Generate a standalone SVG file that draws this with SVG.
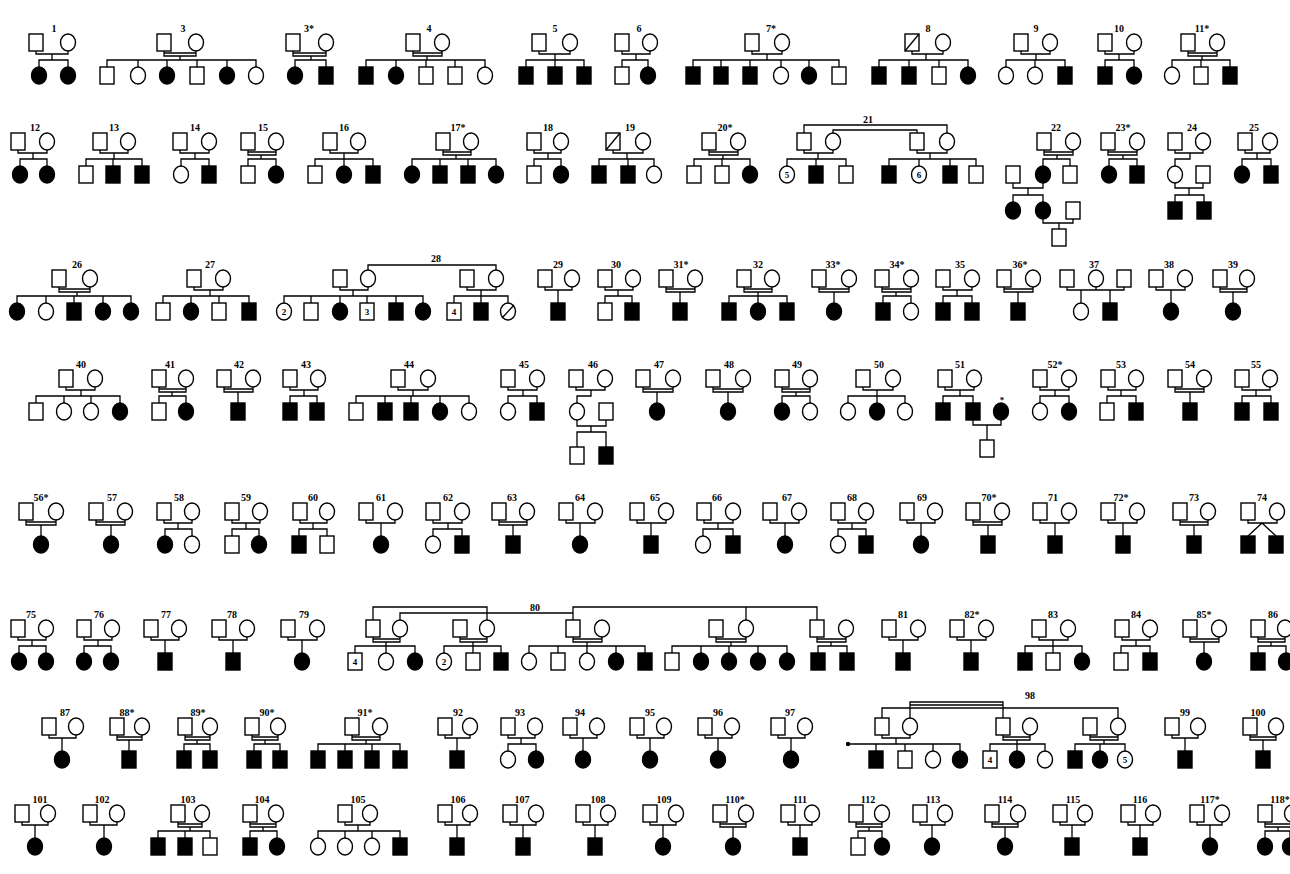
<svg xmlns="http://www.w3.org/2000/svg" xmlns:xlink="http://www.w3.org/1999/xlink" width="1290" height="874" viewBox="0 0 1290 874">
<style>
.ln,.x{fill:none;stroke:#000;stroke-width:1.3}
use{fill:#fff;stroke:#000;stroke-width:1.4}
use.f{fill:#000}
text{font-family:"Liberation Serif",serif;font-size:10px;font-weight:bold;text-anchor:middle;fill:#000}
text.n{font-size:9px}
</style>
<defs>
<rect id="P" x="-7" y="0" width="14" height="17"/>
<ellipse id="Q" cx="0" cy="8.5" rx="7.5" ry="8.5"/>
<rect id="S" x="-7" y="33" width="14" height="17"/>
<ellipse id="C" cx="0" cy="41.5" rx="7.5" ry="8.5"/>
</defs>
<rect width="1290" height="874" fill="#fff"/>

<g id="row1" transform="translate(0,34)">
<g id="links-row1" class="ln">
<path d="M36,17V20H68V17M52,20V26M39,33V26H68V33"/>
<path d="M164,17V22H196V17M164,19H196M180,22V26M107,33V26H256V33M138,26V33M167,26V33M197,26V33M227,26V33"/>
<path d="M293,17V22H326V17M293,19H326M311,22V26M295,33V26H326V33"/>
<path d="M413,17V22H442V17M413,19H442M427,22V26M366,33V26H485V33M396,26V33M426,26V33M455,26V33"/>
<path d="M539,17V20H570V17M555,20V26M526,33V26H584V33M555,26V33"/>
<path d="M622,17V20H650V17M636,20V26M622,33V26H648V33"/>
<path d="M752,17V20H782V17M767,20V26M693,33V26H839V33M721,26V33M750,26V33M781,26V33M809,26V33"/>
<path d="M912,17V20H943V17M926,20V26M879,33V26H968V33M909,26V33M939,26V33"/>
<path d="M1021,17V20H1050V17M1036,20V26M1006,33V26H1065V33M1035,26V33"/>
<path d="M1105,17V20H1134V17M1119,20V26M1105,33V26H1134V33"/>
<path d="M1188,17V22H1217V17M1188,19H1217M1202,22V26M1172,33V26H1230V33M1201,26V33"/>
</g>
<g id="f1"><text x="54" y="-2">1</text><use href="#P" x="36"/><use href="#Q" x="68"/><use href="#C" x="39" class="f"/><use href="#C" x="68" class="f"/></g>
<g id="f3"><text x="183" y="-2">3</text><use href="#P" x="164"/><use href="#Q" x="196"/><use href="#S" x="107"/><use href="#C" x="138"/><use href="#C" x="167" class="f"/><use href="#S" x="197"/><use href="#C" x="227" class="f"/><use href="#C" x="256"/></g>
<g id="f3s"><text x="309" y="-2">3*</text><use href="#P" x="293"/><use href="#Q" x="326"/><use href="#C" x="295" class="f"/><use href="#S" x="326" class="f"/></g>
<g id="f4"><text x="429" y="-2">4</text><use href="#P" x="413"/><use href="#Q" x="442"/><use href="#S" x="366" class="f"/><use href="#C" x="396" class="f"/><use href="#S" x="426"/><use href="#S" x="455"/><use href="#C" x="485"/></g>
<g id="f5"><text x="555" y="-2">5</text><use href="#P" x="539"/><use href="#Q" x="570"/><use href="#S" x="526" class="f"/><use href="#S" x="555" class="f"/><use href="#S" x="584" class="f"/></g>
<g id="f6"><text x="639" y="-2">6</text><use href="#P" x="622"/><use href="#Q" x="650"/><use href="#S" x="622"/><use href="#C" x="648" class="f"/></g>
<g id="f7"><text x="771" y="-2">7*</text><use href="#P" x="752"/><use href="#Q" x="782"/><use href="#S" x="693" class="f"/><use href="#S" x="721" class="f"/><use href="#S" x="750" class="f"/><use href="#C" x="781"/><use href="#C" x="809" class="f"/><use href="#S" x="839"/></g>
<g id="f8"><text x="928" y="-2">8</text><use href="#P" x="912"/><path class="x" d="M905,17L919,0"/><use href="#Q" x="943"/><use href="#S" x="879" class="f"/><use href="#S" x="909" class="f"/><use href="#S" x="939"/><use href="#C" x="968" class="f"/></g>
<g id="f9"><text x="1036" y="-2">9</text><use href="#P" x="1021"/><use href="#Q" x="1050"/><use href="#C" x="1006"/><use href="#C" x="1035"/><use href="#S" x="1065" class="f"/></g>
<g id="f10"><text x="1119" y="-2">10</text><use href="#P" x="1105"/><use href="#Q" x="1134"/><use href="#S" x="1105" class="f"/><use href="#C" x="1134" class="f"/></g>
<g id="f11"><text x="1202" y="-2">11*</text><use href="#P" x="1188"/><use href="#Q" x="1217"/><use href="#C" x="1172"/><use href="#S" x="1201"/><use href="#S" x="1230" class="f"/></g>
</g>

<g id="row2" transform="translate(0,133)">
<g id="links-row2" class="ln">
<path d="M18,17V20H47V17M33,20V26M20,33V26H47V33"/>
<path d="M100,17V20H128V17M114,20V26M86,33V26H142V33M113,26V33"/>
<path d="M180,17V20H209V17M195,20V26M181,33V26H209V33"/>
<path d="M248,17V22H276V17M248,19H276M261,22V26M248,33V26H276V33"/>
<path d="M330,17V20H358V17M344,20V26M315,33V26H373V33M344,26V33"/>
<path d="M443,17V22H471V17M443,19H471M456,22V26M412,33V26H496V33M440,26V33M468,26V33"/>
<path d="M534,17V20H561V17M548,20V26M534,33V26H561V33"/>
<path d="M613,17V20H643V17M627,20V26M599,33V26H654V33M628,26V33"/>
<path d="M709,17V22H738V17M709,19H738M723,22V26M694,33V26H750V33M722,26V33"/>
<path d="M804,0V-8H947V0M833,0V-3H917V0M804,17V20H833V17M818,20V26M787,33V26H846V33M816,26V33M917,17V20H947V17M930,20V26M889,33V26H976V33M919,26V33M950,26V33"/>
<path d="M1044,17V22H1073V17M1044,19H1073M1057,22V26M1043,33V26H1070V33M1013,50V55H1043V50M1028,55V62M1013,69V62H1043V69M1043,86V90H1073V86M1059,90V96"/>
<path d="M1108,17V22H1137V17M1108,19H1137M1123,22V26M1109,33V26H1137V33"/>
<path d="M1175,17V20H1203V17M1190,20V26H1175V33M1175,50V55H1203V50M1189,55V62M1175,69V62H1204V69"/>
<path d="M1245,17V20H1270V17M1257,20V26M1242,33V26H1271V33"/>
</g>
<g id="f12"><text x="35" y="-2">12</text><use href="#P" x="18"/><use href="#Q" x="47"/><use href="#C" x="20" class="f"/><use href="#C" x="47" class="f"/></g>
<g id="f13"><text x="114" y="-2">13</text><use href="#P" x="100"/><use href="#Q" x="128"/><use href="#S" x="86"/><use href="#S" x="113" class="f"/><use href="#S" x="142" class="f"/></g>
<g id="f14"><text x="195" y="-2">14</text><use href="#P" x="180"/><use href="#Q" x="209"/><use href="#C" x="181"/><use href="#S" x="209" class="f"/></g>
<g id="f15"><text x="263" y="-2">15</text><use href="#P" x="248"/><use href="#Q" x="276"/><use href="#S" x="248"/><use href="#C" x="276" class="f"/></g>
<g id="f16"><text x="344" y="-2">16</text><use href="#P" x="330"/><use href="#Q" x="358"/><use href="#S" x="315"/><use href="#C" x="344" class="f"/><use href="#S" x="373" class="f"/></g>
<g id="f17"><text x="458" y="-2">17*</text><use href="#P" x="443"/><use href="#Q" x="471"/><use href="#C" x="412" class="f"/><use href="#S" x="440" class="f"/><use href="#S" x="468" class="f"/><use href="#C" x="496" class="f"/></g>
<g id="f18"><text x="548" y="-2">18</text><use href="#P" x="534"/><use href="#Q" x="561"/><use href="#S" x="534"/><use href="#C" x="561" class="f"/></g>
<g id="f19"><text x="630" y="-2">19</text><use href="#P" x="613"/><path class="x" d="M606,17L620,0"/><use href="#Q" x="643"/><use href="#S" x="599" class="f"/><use href="#S" x="628" class="f"/><use href="#C" x="654"/></g>
<g id="f20"><text x="725" y="-2">20*</text><use href="#P" x="709"/><use href="#Q" x="738"/><use href="#S" x="694"/><use href="#S" x="722"/><use href="#C" x="750" class="f"/></g>
<g id="f21"><text x="868" y="-10">21</text><use href="#P" x="804"/><use href="#Q" x="833"/><use href="#P" x="917"/><use href="#Q" x="947"/><use href="#C" x="787"/><text class="n" x="787" y="45">5</text><use href="#S" x="816" class="f"/><use href="#S" x="846"/><use href="#S" x="889" class="f"/><use href="#C" x="919"/><text class="n" x="919" y="45">6</text><use href="#S" x="950" class="f"/><use href="#S" x="976"/></g>
<g id="f22"><text x="1056" y="-2">22</text><use href="#P" x="1044"/><use href="#Q" x="1073"/><use href="#S" x="1013"/><use href="#C" x="1043" class="f"/><use href="#S" x="1070"/><use href="#C" x="1013" y="36" class="f"/><use href="#C" x="1043" y="36" class="f"/><use href="#S" x="1073" y="36"/><use href="#S" x="1059" y="63"/></g>
<g id="f23"><text x="1123" y="-2">23*</text><use href="#P" x="1108"/><use href="#Q" x="1137"/><use href="#C" x="1109" class="f"/><use href="#S" x="1137" class="f"/></g>
<g id="f24"><text x="1192" y="-2">24</text><use href="#P" x="1175"/><use href="#Q" x="1203"/><use href="#C" x="1175"/><use href="#S" x="1203"/><use href="#S" x="1175" y="36" class="f"/><use href="#S" x="1204" y="36" class="f"/></g>
<g id="f25"><text x="1254" y="-2">25</text><use href="#P" x="1245"/><use href="#Q" x="1270"/><use href="#C" x="1242" class="f"/><use href="#S" x="1271" class="f"/></g>
</g>

<g id="row3" transform="translate(0,270)">
<g id="links-row3" class="ln">
<path d="M59,17V22H90V17M59,19H90M77,22V26M17,33V26H131V33M46,26V33M74,26V33M103,26V33"/>
<path d="M194,17V20H223V17M210,20V26M163,33V26H249V33M191,26V33M219,26V33"/>
<path d="M368,0V-5H496V0M340,17V20H368V17M353,20V26M284,33V26H423V33M311,26V33M340,26V33M367,26V33M396,26V33M467,17V20H496V17M481,20V26M454,33V26H508V33M481,26V33"/>
<path d="M545,17V20H572V17M558,20V33"/>
<path d="M605,17V20H633V17M618,20V26M605,33V26H632V33"/>
<path d="M666,17V22H695V17M666,19H695M680,22V33"/>
<path d="M744,17V22H772V17M744,19H772M758,22V26M729,33V26H787V33M758,26V33"/>
<path d="M819,17V22H849V17M819,19H849M834,22V33"/>
<path d="M882,17V22H911V17M882,19H911M896,22V26M883,33V26H911V33"/>
<path d="M943,17V20H972V17M957,20V26M943,33V26H972V33"/>
<path d="M1004,17V22H1033V17M1004,19H1033M1018,22V33"/>
<path d="M1067,17V20H1124V17M1096,17V20M1081,20V33M1110,20V33"/>
<path d="M1156,17V20H1185V17M1171,20V33"/>
<path d="M1220,17V22H1247V17M1220,19H1247M1233,22V33"/>
</g>
<g id="f26"><text x="77" y="-2">26</text><use href="#P" x="59"/><use href="#Q" x="90"/><use href="#C" x="17" class="f"/><use href="#C" x="46"/><use href="#S" x="74" class="f"/><use href="#C" x="103" class="f"/><use href="#C" x="131" class="f"/></g>
<g id="f27"><text x="210" y="-2">27</text><use href="#P" x="194"/><use href="#Q" x="223"/><use href="#S" x="163"/><use href="#C" x="191" class="f"/><use href="#S" x="219"/><use href="#S" x="249" class="f"/></g>
<g id="f28"><text x="436" y="-8">28</text><use href="#P" x="340"/><use href="#Q" x="368"/><use href="#P" x="467"/><use href="#Q" x="496"/><use href="#C" x="284"/><text class="n" x="284" y="45">2</text><use href="#S" x="311"/><use href="#C" x="340" class="f"/><use href="#S" x="367"/><text class="n" x="367" y="45">3</text><use href="#S" x="396" class="f"/><use href="#C" x="423" class="f"/><use href="#S" x="454"/><text class="n" x="454" y="45">4</text><use href="#S" x="481" class="f"/><use href="#C" x="508"/><path class="x" d="M502,48L514,35"/></g>
<g id="f29"><text x="558" y="-2">29</text><use href="#P" x="545"/><use href="#Q" x="572"/><use href="#S" x="558" class="f"/></g>
<g id="f30"><text x="616" y="-2">30</text><use href="#P" x="605"/><use href="#Q" x="633"/><use href="#S" x="605"/><use href="#S" x="632" class="f"/></g>
<g id="f31"><text x="681" y="-2">31*</text><use href="#P" x="666"/><use href="#Q" x="695"/><use href="#S" x="680" class="f"/></g>
<g id="f32"><text x="758" y="-2">32</text><use href="#P" x="744"/><use href="#Q" x="772"/><use href="#S" x="729" class="f"/><use href="#C" x="758" class="f"/><use href="#S" x="787" class="f"/></g>
<g id="f33"><text x="833" y="-2">33*</text><use href="#P" x="819"/><use href="#Q" x="849"/><use href="#C" x="834" class="f"/></g>
<g id="f34"><text x="897" y="-2">34*</text><use href="#P" x="882"/><use href="#Q" x="911"/><use href="#S" x="883" class="f"/><use href="#C" x="911"/></g>
<g id="f35"><text x="960" y="-2">35</text><use href="#P" x="943"/><use href="#Q" x="972"/><use href="#S" x="943" class="f"/><use href="#S" x="972" class="f"/></g>
<g id="f36"><text x="1020" y="-2">36*</text><use href="#P" x="1004"/><use href="#Q" x="1033"/><use href="#S" x="1018" class="f"/></g>
<g id="f37"><text x="1094" y="-2">37</text><use href="#P" x="1067"/><use href="#Q" x="1096"/><use href="#P" x="1124"/><use href="#C" x="1081"/><use href="#S" x="1110" class="f"/></g>
<g id="f38"><text x="1169" y="-2">38</text><use href="#P" x="1156"/><use href="#Q" x="1185"/><use href="#C" x="1171" class="f"/></g>
<g id="f39"><text x="1233" y="-2">39</text><use href="#P" x="1220"/><use href="#Q" x="1247"/><use href="#C" x="1233" class="f"/></g>
</g>

<g id="row4" transform="translate(0,370)">
<g id="links-row4" class="ln">
<path d="M66,17V20H95V17M81,20V26M36,33V26H120V33M64,26V33M91,26V33"/>
<path d="M159,17V22H186V17M159,19H186M172,22V26M159,33V26H186V33"/>
<path d="M224,17V22H253V17M224,19H253M238,22V33"/>
<path d="M290,17V20H318V17M304,20V26M290,33V26H317V33"/>
<path d="M398,17V20H428V17M413,20V26M356,33V26H469V33M385,26V33M411,26V33M440,26V33"/>
<path d="M508,17V20H537V17M523,20V26M508,33V26H537V33"/>
<path d="M576,17V20H605V17M591,20V26H577V33M577,50V56H606V50M591,56V62M577,77V62H606V77"/>
<path d="M643,17V22H673V17M643,19H673M657,22V33"/>
<path d="M713,17V22H743V17M713,19H743M728,22V33"/>
<path d="M782,17V22H810V17M782,19H810M796,22V26M782,33V26H810V33"/>
<path d="M863,17V20H893V17M877,20V26M848,33V26H905V33M877,26V33"/>
<path d="M945,17V20H974V17M960,20V26M943,33V26H973V33M973,50V55H1001V50M987,55V70"/>
<path d="M1040,17V20H1069V17M1055,20V26M1040,33V26H1069V33"/>
<path d="M1108,17V20H1136V17M1121,20V26M1107,33V26H1136V33"/>
<path d="M1175,17V22H1204V17M1175,19H1204M1190,22V33"/>
<path d="M1242,17V20H1270V17M1256,20V26M1242,33V26H1271V33"/>
</g>
<g id="f40"><text x="81" y="-2">40</text><use href="#P" x="66"/><use href="#Q" x="95"/><use href="#S" x="36"/><use href="#C" x="64"/><use href="#C" x="91"/><use href="#C" x="120" class="f"/></g>
<g id="f41"><text x="170" y="-2">41</text><use href="#P" x="159"/><use href="#Q" x="186"/><use href="#S" x="159"/><use href="#C" x="186" class="f"/></g>
<g id="f42"><text x="239" y="-2">42</text><use href="#P" x="224"/><use href="#Q" x="253"/><use href="#S" x="238" class="f"/></g>
<g id="f43"><text x="306" y="-2">43</text><use href="#P" x="290"/><use href="#Q" x="318"/><use href="#S" x="290" class="f"/><use href="#S" x="317" class="f"/></g>
<g id="f44"><text x="409" y="-2">44</text><use href="#P" x="398"/><use href="#Q" x="428"/><use href="#S" x="356"/><use href="#S" x="385" class="f"/><use href="#S" x="411" class="f"/><use href="#C" x="440" class="f"/><use href="#C" x="469"/></g>
<g id="f45"><text x="524" y="-2">45</text><use href="#P" x="508"/><use href="#Q" x="537"/><use href="#C" x="508"/><use href="#S" x="537" class="f"/></g>
<g id="f46"><text x="593" y="-2">46</text><use href="#P" x="576"/><use href="#Q" x="605"/><use href="#C" x="577"/><use href="#S" x="606"/><use href="#S" x="577" y="44"/><use href="#S" x="606" y="44" class="f"/></g>
<g id="f47"><text x="659" y="-2">47</text><use href="#P" x="643"/><use href="#Q" x="673"/><use href="#C" x="657" class="f"/></g>
<g id="f48"><text x="729" y="-2">48</text><use href="#P" x="713"/><use href="#Q" x="743"/><use href="#C" x="728" class="f"/></g>
<g id="f49"><text x="797" y="-2">49</text><use href="#P" x="782"/><use href="#Q" x="810"/><use href="#C" x="782" class="f"/><use href="#C" x="810"/></g>
<g id="f50"><text x="879" y="-2">50</text><use href="#P" x="863"/><use href="#Q" x="893"/><use href="#C" x="848"/><use href="#C" x="877" class="f"/><use href="#C" x="905"/></g>
<g id="f51"><text x="960" y="-2">51</text><use href="#P" x="945"/><use href="#Q" x="974"/><use href="#S" x="943" class="f"/><use href="#S" x="973" class="f"/><use href="#C" x="1001" class="f"/><text class="n" x="1002" y="33">*</text><use href="#S" x="987" y="37"/></g>
<g id="f52"><text x="1055" y="-2">52*</text><use href="#P" x="1040"/><use href="#Q" x="1069"/><use href="#C" x="1040"/><use href="#C" x="1069" class="f"/></g>
<g id="f53"><text x="1121" y="-2">53</text><use href="#P" x="1108"/><use href="#Q" x="1136"/><use href="#S" x="1107"/><use href="#S" x="1136" class="f"/></g>
<g id="f54"><text x="1190" y="-2">54</text><use href="#P" x="1175"/><use href="#Q" x="1204"/><use href="#S" x="1190" class="f"/></g>
<g id="f55"><text x="1256" y="-2">55</text><use href="#P" x="1242"/><use href="#Q" x="1270"/><use href="#S" x="1242" class="f"/><use href="#S" x="1271" class="f"/></g>
</g>

<g id="row5" transform="translate(0,503)">
<g id="links-row5" class="ln">
<path d="M26,17V22H56V17M26,19H56M41,22V33"/>
<path d="M96,17V22H125V17M96,19H125M111,22V33"/>
<path d="M164,17V20H192V17M178,20V26M165,33V26H192V33"/>
<path d="M232,17V20H260V17M246,20V26M232,33V26H259V33"/>
<path d="M300,17V20H327V17M313,20V26M299,33V26H327V33"/>
<path d="M366,17V20H395V17M381,20V33"/>
<path d="M433,17V20H462V17M448,20V26M433,33V26H462V33"/>
<path d="M499,17V22H527V17M499,19H527M513,22V33"/>
<path d="M566,17V20H595V17M580,20V33"/>
<path d="M637,17V20H666V17M651,20V33"/>
<path d="M704,17V20H733V17M718,20V26M703,33V26H733V33"/>
<path d="M770,17V20H799V17M785,20V33"/>
<path d="M838,17V20H866V17M852,20V26M838,33V26H866V33"/>
<path d="M907,17V20H935V17M921,20V33"/>
<path d="M973,17V22H1002V17M973,19H1002M988,22V33"/>
<path d="M1040,17V20H1069V17M1055,20V33"/>
<path d="M1108,17V20H1137V17M1123,20V33"/>
<path d="M1180,17V22H1208V17M1180,19H1208M1194,22V33"/>
<path d="M1248,17V20H1277V17M1248,33L1262,20L1276,33"/>
</g>
<g id="f56"><text x="41" y="-2">56*</text><use href="#P" x="26"/><use href="#Q" x="56"/><use href="#C" x="41" class="f"/></g>
<g id="f57"><text x="112" y="-2">57</text><use href="#P" x="96"/><use href="#Q" x="125"/><use href="#C" x="111" class="f"/></g>
<g id="f58"><text x="179" y="-2">58</text><use href="#P" x="164"/><use href="#Q" x="192"/><use href="#C" x="165" class="f"/><use href="#C" x="192"/></g>
<g id="f59"><text x="246" y="-2">59</text><use href="#P" x="232"/><use href="#Q" x="260"/><use href="#S" x="232"/><use href="#C" x="259" class="f"/></g>
<g id="f60"><text x="313" y="-2">60</text><use href="#P" x="300"/><use href="#Q" x="327"/><use href="#S" x="299" class="f"/><use href="#S" x="327"/></g>
<g id="f61"><text x="381" y="-2">61</text><use href="#P" x="366"/><use href="#Q" x="395"/><use href="#C" x="381" class="f"/></g>
<g id="f62"><text x="448" y="-2">62</text><use href="#P" x="433"/><use href="#Q" x="462"/><use href="#C" x="433"/><use href="#S" x="462" class="f"/></g>
<g id="f63"><text x="512" y="-2">63</text><use href="#P" x="499"/><use href="#Q" x="527"/><use href="#S" x="513" class="f"/></g>
<g id="f64"><text x="580" y="-2">64</text><use href="#P" x="566"/><use href="#Q" x="595"/><use href="#C" x="580" class="f"/></g>
<g id="f65"><text x="655" y="-2">65</text><use href="#P" x="637"/><use href="#Q" x="666"/><use href="#S" x="651" class="f"/></g>
<g id="f66"><text x="717" y="-2">66</text><use href="#P" x="704"/><use href="#Q" x="733"/><use href="#C" x="703"/><use href="#S" x="733" class="f"/></g>
<g id="f67"><text x="787" y="-2">67</text><use href="#P" x="770"/><use href="#Q" x="799"/><use href="#C" x="785" class="f"/></g>
<g id="f68"><text x="852" y="-2">68</text><use href="#P" x="838"/><use href="#Q" x="866"/><use href="#C" x="838"/><use href="#S" x="866" class="f"/></g>
<g id="f69"><text x="922" y="-2">69</text><use href="#P" x="907"/><use href="#Q" x="935"/><use href="#C" x="921" class="f"/></g>
<g id="f70"><text x="989" y="-2">70*</text><use href="#P" x="973"/><use href="#Q" x="1002"/><use href="#S" x="988" class="f"/></g>
<g id="f71"><text x="1053" y="-2">71</text><use href="#P" x="1040"/><use href="#Q" x="1069"/><use href="#S" x="1055" class="f"/></g>
<g id="f72"><text x="1121" y="-2">72*</text><use href="#P" x="1108"/><use href="#Q" x="1137"/><use href="#S" x="1123" class="f"/></g>
<g id="f73"><text x="1194" y="-2">73</text><use href="#P" x="1180"/><use href="#Q" x="1208"/><use href="#S" x="1194" class="f"/></g>
<g id="f74"><text x="1262" y="-2">74</text><use href="#P" x="1248"/><use href="#Q" x="1277"/><use href="#S" x="1248" class="f"/><use href="#S" x="1276" class="f"/></g>
</g>

<g id="row6" transform="translate(0,620)">
<g id="links-row6" class="ln">
<path d="M18,17V20H46V17M32,20V26M19,33V26H46V33"/>
<path d="M84,17V20H112V17M98,20V26M84,33V26H111V33"/>
<path d="M151,17V20H179V17M165,20V33"/>
<path d="M219,17V20H247V17M233,20V33"/>
<path d="M288,17V20H317V17M302,20V33"/>
<path d="M373,0V-13H487V0M400,0V-7H573M573,0V-13H817V0M746,-13V0"/>
<path d="M373,17V22H400V17M373,19H400M386,22V26M355,33V26H415V33M386,26V33"/>
<path d="M460,17V22H487V17M460,19H487M473,22V26M444,33V26H501V33M473,26V33"/>
<path d="M573,17V22H602V17M573,19H602M587,22V26M529,33V26H645V33M558,26V33M587,26V33M616,26V33"/>
<path d="M716,17V22H746V17M716,19H746M731,22V26M672,33V26H787V33M701,26V33M729,26V33M758,26V33"/>
<path d="M817,17V22H846V17M817,19H846M831,22V26M818,33V26H847V33"/>
<path d="M889,17V20H918V17M903,20V33"/>
<path d="M957,17V20H986V17M971,20V33"/>
<path d="M1039,17V20H1068V17M1053,20V26M1025,33V26H1082V33M1053,26V33"/>
<path d="M1122,17V20H1150V17M1136,20V26M1121,33V26H1150V33"/>
<path d="M1190,17V22H1219V17M1190,19H1219M1204,22V33"/>
<path d="M1258,17V22H1285V17M1258,19H1285M1271,22V26M1258,33V26H1286V33"/>
</g>
<g id="f75"><text x="31" y="-2">75</text><use href="#P" x="18"/><use href="#Q" x="46"/><use href="#C" x="19" class="f"/><use href="#C" x="46" class="f"/></g>
<g id="f76"><text x="99" y="-2">76</text><use href="#P" x="84"/><use href="#Q" x="112"/><use href="#C" x="84" class="f"/><use href="#C" x="111" class="f"/></g>
<g id="f77"><text x="166" y="-2">77</text><use href="#P" x="151"/><use href="#Q" x="179"/><use href="#S" x="165" class="f"/></g>
<g id="f78"><text x="232" y="-2">78</text><use href="#P" x="219"/><use href="#Q" x="247"/><use href="#S" x="233" class="f"/></g>
<g id="f79"><text x="304" y="-2">79</text><use href="#P" x="288"/><use href="#Q" x="317"/><use href="#C" x="302" class="f"/></g>
<g id="f80"><text x="535" y="-9">80</text><use href="#P" x="373"/><use href="#Q" x="400"/><use href="#P" x="460"/><use href="#Q" x="487"/><use href="#P" x="573"/><use href="#Q" x="602"/><use href="#P" x="716"/><use href="#Q" x="746"/><use href="#P" x="817"/><use href="#Q" x="846"/>
<use href="#S" x="355"/><text class="n" x="355" y="45">4</text><use href="#C" x="386"/><use href="#C" x="415" class="f"/>
<use href="#C" x="444"/><text class="n" x="444" y="45">2</text><use href="#S" x="473"/><use href="#S" x="501" class="f"/>
<use href="#C" x="529"/><use href="#S" x="558"/><use href="#C" x="587"/><use href="#C" x="616" class="f"/><use href="#S" x="645" class="f"/>
<use href="#S" x="672"/><use href="#C" x="701" class="f"/><use href="#C" x="729" class="f"/><use href="#C" x="758" class="f"/><use href="#C" x="787" class="f"/>
<use href="#S" x="818" class="f"/><use href="#S" x="847" class="f"/></g>
<g id="f81"><text x="903" y="-2">81</text><use href="#P" x="889"/><use href="#Q" x="918"/><use href="#S" x="903" class="f"/></g>
<g id="f82"><text x="972" y="-2">82*</text><use href="#P" x="957"/><use href="#Q" x="986"/><use href="#S" x="971" class="f"/></g>
<g id="f83"><text x="1053" y="-2">83</text><use href="#P" x="1039"/><use href="#Q" x="1068"/><use href="#S" x="1025" class="f"/><use href="#S" x="1053"/><use href="#C" x="1082" class="f"/></g>
<g id="f84"><text x="1136" y="-2">84</text><use href="#P" x="1122"/><use href="#Q" x="1150"/><use href="#S" x="1121"/><use href="#S" x="1150" class="f"/></g>
<g id="f85"><text x="1204" y="-2">85*</text><use href="#P" x="1190"/><use href="#Q" x="1219"/><use href="#C" x="1204" class="f"/></g>
<g id="f86"><text x="1273" y="-2">86</text><use href="#P" x="1258"/><use href="#Q" x="1285"/><use href="#S" x="1258" class="f"/><use href="#C" x="1286" class="f"/></g>
</g>

<g id="row7" transform="translate(0,718)">
<g id="links-row7" class="ln">
<path d="M49,17V20H76V17M62,20V33"/>
<path d="M117,17V22H142V17M117,19H142M129,22V33"/>
<path d="M185,17V22H210V17M185,19H210M197,22V26M184,33V26H210V33"/>
<path d="M252,17V22H278V17M252,19H278M265,22V26M254,33V26H280V33"/>
<path d="M352,17V22H380V17M352,19H380M366,22V26M318,33V26H400V33M345,26V33M372,26V33"/>
<path d="M445,17V20H470V17M457,20V33"/>
<path d="M508,17V20H535V17M521,20V26M508,33V26H536V33"/>
<path d="M570,17V20H597V17M583,20V33"/>
<path d="M637,17V20H664V17M650,20V33"/>
<path d="M705,17V20H732V17M718,20V33"/>
<path d="M778,17V20H805V17M791,20V33"/>
<path d="M882,0V-10H1118V0M910,0V-16H1003V0M910,-13H1003"/>
<path d="M882,17V20H910V17M896,20V26M848,26H960V33M876,26V33M905,26V33M933,26V33"/>
<path d="M1003,17V22H1030V17M1003,19H1030M1017,22V26M990,33V26H1045V33M1017,26V33"/>
<path d="M1090,17V22H1118V17M1090,19H1118M1104,22V26M1075,33V26H1125V33M1100,26V33"/>
<path d="M1172,17V20H1198V17M1185,20V33"/>
<path d="M1250,17V22H1276V17M1250,19H1276M1263,22V33"/>
</g>
<g id="f87"><text x="65" y="-2">87</text><use href="#P" x="49"/><use href="#Q" x="76"/><use href="#C" x="62" class="f"/></g>
<g id="f88"><text x="127" y="-2">88*</text><use href="#P" x="117"/><use href="#Q" x="142"/><use href="#S" x="129" class="f"/></g>
<g id="f89"><text x="198" y="-2">89*</text><use href="#P" x="185"/><use href="#Q" x="210"/><use href="#S" x="184" class="f"/><use href="#S" x="210" class="f"/></g>
<g id="f90"><text x="267" y="-2">90*</text><use href="#P" x="252"/><use href="#Q" x="278"/><use href="#S" x="254" class="f"/><use href="#S" x="280" class="f"/></g>
<g id="f91"><text x="365" y="-2">91*</text><use href="#P" x="352"/><use href="#Q" x="380"/><use href="#S" x="318" class="f"/><use href="#S" x="345" class="f"/><use href="#S" x="372" class="f"/><use href="#S" x="400" class="f"/></g>
<g id="f92"><text x="458" y="-2">92</text><use href="#P" x="445"/><use href="#Q" x="470"/><use href="#S" x="457" class="f"/></g>
<g id="f93"><text x="520" y="-2">93</text><use href="#P" x="508"/><use href="#Q" x="535"/><use href="#C" x="508"/><use href="#C" x="536" class="f"/></g>
<g id="f94"><text x="580" y="-2">94</text><use href="#P" x="570"/><use href="#Q" x="597"/><use href="#C" x="583" class="f"/></g>
<g id="f95"><text x="650" y="-2">95</text><use href="#P" x="637"/><use href="#Q" x="664"/><use href="#C" x="650" class="f"/></g>
<g id="f96"><text x="718" y="-2">96</text><use href="#P" x="705"/><use href="#Q" x="732"/><use href="#C" x="718" class="f"/></g>
<g id="f97"><text x="790" y="-2">97</text><use href="#P" x="778"/><use href="#Q" x="805"/><use href="#C" x="791" class="f"/></g>
<g id="f98"><text x="1030" y="-19">98</text><use href="#P" x="882"/><use href="#Q" x="910"/><use href="#P" x="1003"/><use href="#Q" x="1030"/><use href="#P" x="1090"/><use href="#Q" x="1118"/>
<circle cx="848" cy="26" r="2.2" fill="#000"/>
<use href="#S" x="876" class="f"/><use href="#S" x="905"/><use href="#C" x="933"/><use href="#C" x="960" class="f"/>
<use href="#S" x="990"/><text class="n" x="990" y="45">4</text><use href="#C" x="1017" class="f"/><use href="#C" x="1045"/>
<use href="#S" x="1075" class="f"/><use href="#C" x="1100" class="f"/><use href="#C" x="1125"/><text class="n" x="1125" y="45">5</text></g>
<g id="f99"><text x="1185" y="-2">99</text><use href="#P" x="1172"/><use href="#Q" x="1198"/><use href="#S" x="1185" class="f"/></g>
<g id="f100"><text x="1258" y="-2">100</text><use href="#P" x="1250"/><use href="#Q" x="1276"/><use href="#S" x="1263" class="f"/></g>
</g>

<g id="row8" transform="translate(0,805)">
<g id="links-row8" class="ln">
<path d="M22,17V20H48V17M35,20V33"/>
<path d="M90,17V20H117V17M104,20V33"/>
<path d="M178,17V22H202V17M178,19H202M190,22V26M158,33V26H210V33M185,26V33"/>
<path d="M250,17V22H276V17M250,19H276M263,22V26M250,33V26H277V33"/>
<path d="M345,17V20H370V17M358,20V26M318,33V26H400V33M345,26V33M372,26V33"/>
<path d="M445,17V20H470V17M457,20V33"/>
<path d="M510,17V20H536V17M523,20V33"/>
<path d="M583,17V20H608V17M595,20V33"/>
<path d="M650,17V20H676V17M663,20V33"/>
<path d="M720,17V22H746V17M720,19H746M733,22V33"/>
<path d="M788,17V20H812V17M800,20V33"/>
<path d="M856,17V22H882V17M856,19H882M869,22V26M858,33V26H882V33"/>
<path d="M920,17V20H945V17M932,20V33"/>
<path d="M992,17V22H1018V17M992,19H1018M1005,22V33"/>
<path d="M1060,17V20H1085V17M1072,20V33"/>
<path d="M1128,17V20H1153V17M1140,20V33"/>
<path d="M1197,17V20H1222V17M1210,20V33"/>
<path d="M1265,17V22H1292V17M1265,19H1292M1278,22V26M1265,33V26H1290V33"/>
</g>
<g id="f101"><text x="40" y="-2">101</text><use href="#P" x="22"/><use href="#Q" x="48"/><use href="#C" x="35" class="f"/></g>
<g id="f102"><text x="102" y="-2">102</text><use href="#P" x="90"/><use href="#Q" x="117"/><use href="#C" x="104" class="f"/></g>
<g id="f103"><text x="188" y="-2">103</text><use href="#P" x="178"/><use href="#Q" x="202"/><use href="#S" x="158" class="f"/><use href="#S" x="185" class="f"/><use href="#S" x="210"/></g>
<g id="f104"><text x="262" y="-2">104</text><use href="#P" x="250"/><use href="#Q" x="276"/><use href="#S" x="250" class="f"/><use href="#C" x="277" class="f"/></g>
<g id="f105"><text x="358" y="-2">105</text><use href="#P" x="345"/><use href="#Q" x="370"/><use href="#C" x="318"/><use href="#C" x="345"/><use href="#C" x="372"/><use href="#S" x="400" class="f"/></g>
<g id="f106"><text x="458" y="-2">106</text><use href="#P" x="445"/><use href="#Q" x="470"/><use href="#S" x="457" class="f"/></g>
<g id="f107"><text x="522" y="-2">107</text><use href="#P" x="510"/><use href="#Q" x="536"/><use href="#S" x="523" class="f"/></g>
<g id="f108"><text x="598" y="-2">108</text><use href="#P" x="583"/><use href="#Q" x="608"/><use href="#S" x="595" class="f"/></g>
<g id="f109"><text x="664" y="-2">109</text><use href="#P" x="650"/><use href="#Q" x="676"/><use href="#C" x="663" class="f"/></g>
<g id="f110"><text x="735" y="-2">110*</text><use href="#P" x="720"/><use href="#Q" x="746"/><use href="#C" x="733" class="f"/></g>
<g id="f111"><text x="800" y="-2">111</text><use href="#P" x="788"/><use href="#Q" x="812"/><use href="#S" x="800" class="f"/></g>
<g id="f112"><text x="868" y="-2">112</text><use href="#P" x="856"/><use href="#Q" x="882"/><use href="#S" x="858"/><use href="#C" x="882" class="f"/></g>
<g id="f113"><text x="933" y="-2">113</text><use href="#P" x="920"/><use href="#Q" x="945"/><use href="#C" x="932" class="f"/></g>
<g id="f114"><text x="1005" y="-2">114</text><use href="#P" x="992"/><use href="#Q" x="1018"/><use href="#C" x="1005" class="f"/></g>
<g id="f115"><text x="1073" y="-2">115</text><use href="#P" x="1060"/><use href="#Q" x="1085"/><use href="#S" x="1072" class="f"/></g>
<g id="f116"><text x="1140" y="-2">116</text><use href="#P" x="1128"/><use href="#Q" x="1153"/><use href="#S" x="1140" class="f"/></g>
<g id="f117"><text x="1210" y="-2">117*</text><use href="#P" x="1197"/><use href="#Q" x="1222"/><use href="#C" x="1210" class="f"/></g>
<g id="f118"><text x="1280" y="-2">118*</text><use href="#P" x="1265"/><use href="#Q" x="1292"/><use href="#C" x="1265" class="f"/><use href="#C" x="1290" class="f"/></g>
</g>
</svg>
